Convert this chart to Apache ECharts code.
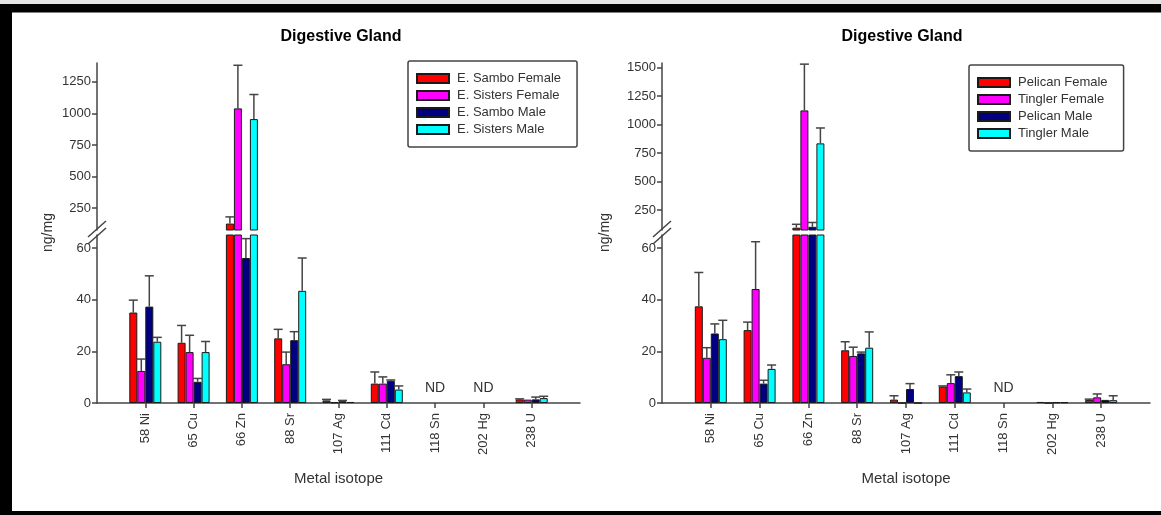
<!DOCTYPE html>
<html>
<head>
<meta charset="utf-8">
<script src="https://cdn.jsdelivr.net/npm/echarts@6/dist/echarts.min.js"></script>
<style>
  html, body { margin: 0; padding: 0; background: #fff; }
  #chart { width: 1161px; height: 515px; }
</style>
</head>
<body>
<div id="chart"></div>
<script>
// ---- data -------------------------------------------------------------
const isotopes = ['58 Ni', '65 Cu', '66 Zn', '88 Sr', '107 Ag', '111 Cd', '118 Sn', '202 Hg', '238 U'];
const lowTicks = [0, 20, 40, 60];
const highTicksLeft = [250, 500, 750, 1000, 1250];
const highTicksRight = [250, 500, 750, 1000, 1250, 1500];

// Left panel: means (ng/mg) and upper error
const leftNames = ['E. Sambo Female', 'E. Sisters Female', 'E. Sambo Male', 'E. Sisters Male'];
const samboFemale      = [35.0, 23.3, 126, 25.0, 1.0, 7.5, null, null, 1.4];
const samboFemaleErr   = [4.8, 6.7, 53, 3.5, 0.4, 4.5, 0, 0, 0.2];
const sistersFemale    = [12.4, 19.7, 1040, 15.0, 0.2, 7.5, null, null, 1.3];
const sistersFemaleErr = [4.6, 6.5, 342, 4.7, 0, 2.6, 0, 0, 0];
const samboMale        = [37.3, 8.2, 56.1, 24.3, 0.7, 8.6, null, null, 1.4];
const samboMaleErr     = [11.9, 1.3, 7.5, 3.3, 0.3, 0.3, 0, 0, 0.9];
const sistersMale      = [23.7, 19.7, 955, 43.4, 0.4, 5.2, null, null, 1.9];
const sistersMaleErr   = [1.7, 4.1, 195, 12.7, 0, 1.4, 0, 0, 0.7];
const leftND = ['118 Sn', '202 Hg'];

// Right panel
const rightNames = ['Pelican Female', 'Tingler Female', 'Pelican Male', 'Tingler Male'];
const pelicanFemale    = [37.4, 28.2, 95, 20.4, 1.3, 6.4, null, 0.4, 1.2];
const pelicanFemaleErr = [13.1, 3.1, 30, 3.3, 1.5, 0.2, 0, 0, 0.3];
const tinglerFemale    = [17.5, 44.1, 1124, 18.2, 0, 7.7, null, 0, 2.2];
const tinglerFemaleErr = [3.9, 18.3, 406, 3.4, 0, 3.2, 0, 0, 1.3];
const pelicanMale      = [26.9, 7.5, 103, 19.2, 5.4, 10.4, null, 0.3, 1.2];
const pelicanMaleErr   = [3.7, 1.3, 38, 0.5, 2.1, 1.6, 0, 0, 0];
const tinglerMale      = [24.7, 13.2, 835, 21.4, 0, 4.1, null, 0.3, 1.1];
const tinglerMaleErr   = [7.3, 1.5, 135, 6.1, 0, 1.3, 0, 0, 1.7];
const rightND = ['118 Sn'];

// ---- styling / layout ---------------------------------------------------
const seriesColors = ['#ff0000', '#ff00ff', '#000080', '#00ffff'];
const BAR_W = 8, CAP_W = 9;
const AXIS_COLOR = '#444', TEXT_COLOR = '#333';
const FONT = '"Liberation Sans", Arial, sans-serif';
const UPPER_TOP = 63, UPPER_H = 167, LOWER_TOP = 235, LOWER_H = 168;

const panels = [
  {
    names: leftNames,
    values: [samboFemale, sistersFemale, samboMale, sistersMale],
    errors: [samboFemaleErr, sistersFemaleErr, samboMaleErr, sistersMaleErr],
    nd: leftND, upperMin: 75, upperMax: 1400, upperTicks: highTicksLeft,
    gridLeft: 97, gridWidth: 483, titleX: 341, legendLeft: 408, legendTop: 61, yNameX: 48
  },
  {
    names: rightNames,
    values: [pelicanFemale, tinglerFemale, pelicanMale, tinglerMale],
    errors: [pelicanFemaleErr, tinglerFemaleErr, pelicanMaleErr, tinglerMaleErr],
    nd: rightND, upperMin: 75, upperMax: 1540, upperTicks: highTicksRight,
    gridLeft: 662, gridWidth: 488, titleX: 902, legendLeft: 969, legendTop: 65, yNameX: 605
  }
];

// padded category list so the nine isotopes sit on ticks 1..9 of a 0..10 span
const cats = [''].concat(isotopes, ['']);
const pad = arr => [null].concat(arr, [null]);

const axisLine = { show: true, lineStyle: { color: AXIS_COLOR, width: 1.5 } };
const labelStyle = { color: TEXT_COLOR, fontSize: 13, fontFamily: FONT };
const plainNumber = v => String(v);

const grids = [], xAxes = [], yAxes = [], series = [], titles = [], legends = [];

function errorRenderer(slot) {
  return function (params, api) {
    const cs = params.coordSys;
    const idx = api.value(0), v = api.value(1), e = api.value(2);
    const x = api.coord([idx, 0])[0] + (slot - 1.5) * BAR_W;
    let y0 = api.coord([idx, v])[1];
    let y1 = api.coord([idx, v + e])[1];
    const top = cs.y, bottom = cs.y + cs.height;
    if (y1 > bottom || y0 < top) return null;
    y0 = Math.min(y0, bottom);
    const capped = y1 >= top;
    y1 = Math.max(y1, top);
    const st = { stroke: AXIS_COLOR, lineWidth: 1.5 };
    const children = [{ type: 'line', shape: { x1: x, y1: y0, x2: x, y2: y1 }, style: st }];
    if (capped) children.push({ type: 'line', shape: { x1: x - CAP_W / 2, y1: y1, x2: x + CAP_W / 2, y2: y1 }, style: st });
    return { type: 'group', children };
  };
}

function ndRenderer(params, api) {
  const p = api.coord([api.value(0), 0]);
  return {
    type: 'text', x: p[0], y: p[1] - 8,
    style: { text: 'ND', fill: TEXT_COLOR, fontSize: 14, fontFamily: FONT, align: 'center', verticalAlign: 'bottom' }
  };
}

panels.forEach((p, pi) => {
  const gUp = pi * 2, gLow = pi * 2 + 1;
  grids.push({ left: p.gridLeft, width: p.gridWidth, top: UPPER_TOP, height: UPPER_H, outerBoundsMode: 'none' });
  grids.push({ left: p.gridLeft, width: p.gridWidth, top: LOWER_TOP, height: LOWER_H, outerBoundsMode: 'none' });

  xAxes.push({ type: 'category', gridIndex: gUp, data: cats, boundaryGap: false, show: false });
  xAxes.push({
    type: 'category', gridIndex: gLow, data: cats, boundaryGap: false,
    axisLine,
    axisTick: { show: true, length: 5, interval: (i, v) => v !== '', lineStyle: { color: AXIS_COLOR, width: 1.5 } },
    axisLabel: Object.assign({ interval: 0, rotate: 90, margin: 10 }, labelStyle),
    splitLine: { show: false },
    name: 'Metal isotope', nameLocation: 'middle', nameGap: 68,
    nameTextStyle: { color: TEXT_COLOR, fontSize: 15, fontFamily: FONT }
  });

  yAxes.push({
    type: 'value', gridIndex: gUp, min: p.upperMin, max: p.upperMax,
    axisLine,
    axisTick: { show: true, length: 5, customValues: p.upperTicks, lineStyle: { color: AXIS_COLOR, width: 1.5 } },
    axisLabel: Object.assign({ margin: 6, customValues: p.upperTicks, formatter: plainNumber }, labelStyle),
    splitLine: { show: false }
  });
  yAxes.push({
    type: 'value', gridIndex: gLow, min: 0, max: 65,
    axisLine,
    axisTick: { show: true, length: 5, customValues: lowTicks, lineStyle: { color: AXIS_COLOR, width: 1.5 } },
    axisLabel: Object.assign({ margin: 6, customValues: lowTicks, formatter: plainNumber }, labelStyle),
    splitLine: { show: false }
  });

  p.names.forEach((name, s) => {
    [gUp, gLow].forEach(g => {
      series.push({
        type: 'bar', name, xAxisIndex: g, yAxisIndex: g,
        data: pad(p.values[s]), barWidth: BAR_W, barGap: '0%',
        itemStyle: { color: seriesColors[s], borderColor: '#1a1a1a', borderWidth: 1 },
        clip: true, animation: false, silent: true
      });
    });
  });
  p.names.forEach((name, s) => {
    const data = [];
    p.values[s].forEach((v, i) => { if (v != null && p.errors[s][i] > 0) data.push([i + 1, v, p.errors[s][i]]); });
    [gUp, gLow].forEach(g => {
      series.push({
        type: 'custom', xAxisIndex: g, yAxisIndex: g, data,
        renderItem: errorRenderer(s), z: 5, animation: false, silent: true
      });
    });
  });
  series.push({
    type: 'custom', xAxisIndex: gLow, yAxisIndex: gLow,
    data: p.nd.map(c => [cats.indexOf(c), 0]),
    renderItem: ndRenderer, animation: false, silent: true
  });

  titles.push({
    text: 'Digestive Gland', left: p.titleX, top: 29, textAlign: 'center', padding: 0,
    textStyle: { color: '#000', fontSize: 16, fontWeight: 'bold', fontFamily: FONT }
  });

  legends.push({
    data: p.names, orient: 'vertical', left: p.legendLeft, top: p.legendTop,
    icon: 'rect', itemWidth: 32, itemHeight: 9, itemGap: 4,
    padding: [11, 16, 11, 8],
    borderColor: '#444', borderWidth: 1.5, borderRadius: 2,
    textStyle: { color: TEXT_COLOR, fontSize: 13, lineHeight: 13, fontFamily: FONT, padding: [0, 0, 0, 3] },
    selectedMode: false
  });
});

// decorations: axis break marks, y-axis titles, frame
const graphics = [];
const breakY = (UPPER_TOP + UPPER_H + LOWER_TOP) / 2;
panels.forEach(p => {
  const ax = p.gridLeft;
  [-3.5, 3.5].forEach(dy => {
    graphics.push({
      type: 'line', z: 100,
      shape: { x1: ax - 9, y1: breakY + dy + 8, x2: ax + 9, y2: breakY + dy - 8 },
      style: { stroke: AXIS_COLOR, lineWidth: 1.5 }
    });
  });
  graphics.push({
    type: 'text', x: p.yNameX, y: breakY, rotation: Math.PI / 2, z: 100,
    style: { text: 'ng/mg', fill: TEXT_COLOR, fontSize: 14, fontFamily: FONT, align: 'center', verticalAlign: 'middle' }
  });
});
graphics.push({ type: 'rect', z: 200, shape: { x: 0, y: 0, width: 1161, height: 4 }, style: { fill: '#e4e4e4' } });
graphics.push({ type: 'rect', z: 200, shape: { x: 0, y: 4, width: 1161, height: 8.5 }, style: { fill: '#000' } });
graphics.push({ type: 'rect', z: 200, shape: { x: 0, y: 4, width: 12, height: 511 }, style: { fill: '#000' } });
graphics.push({ type: 'rect', z: 200, shape: { x: 0, y: 511, width: 1161, height: 4 }, style: { fill: '#000' } });

const chart = echarts.init(document.getElementById('chart'), null, { renderer: 'canvas' });
chart.setOption({
  backgroundColor: '#fff',
  animation: false,
  title: titles,
  legend: legends,
  grid: grids,
  xAxis: xAxes,
  yAxis: yAxes,
  series,
  graphic: graphics
});
</script>
</body>
</html>
